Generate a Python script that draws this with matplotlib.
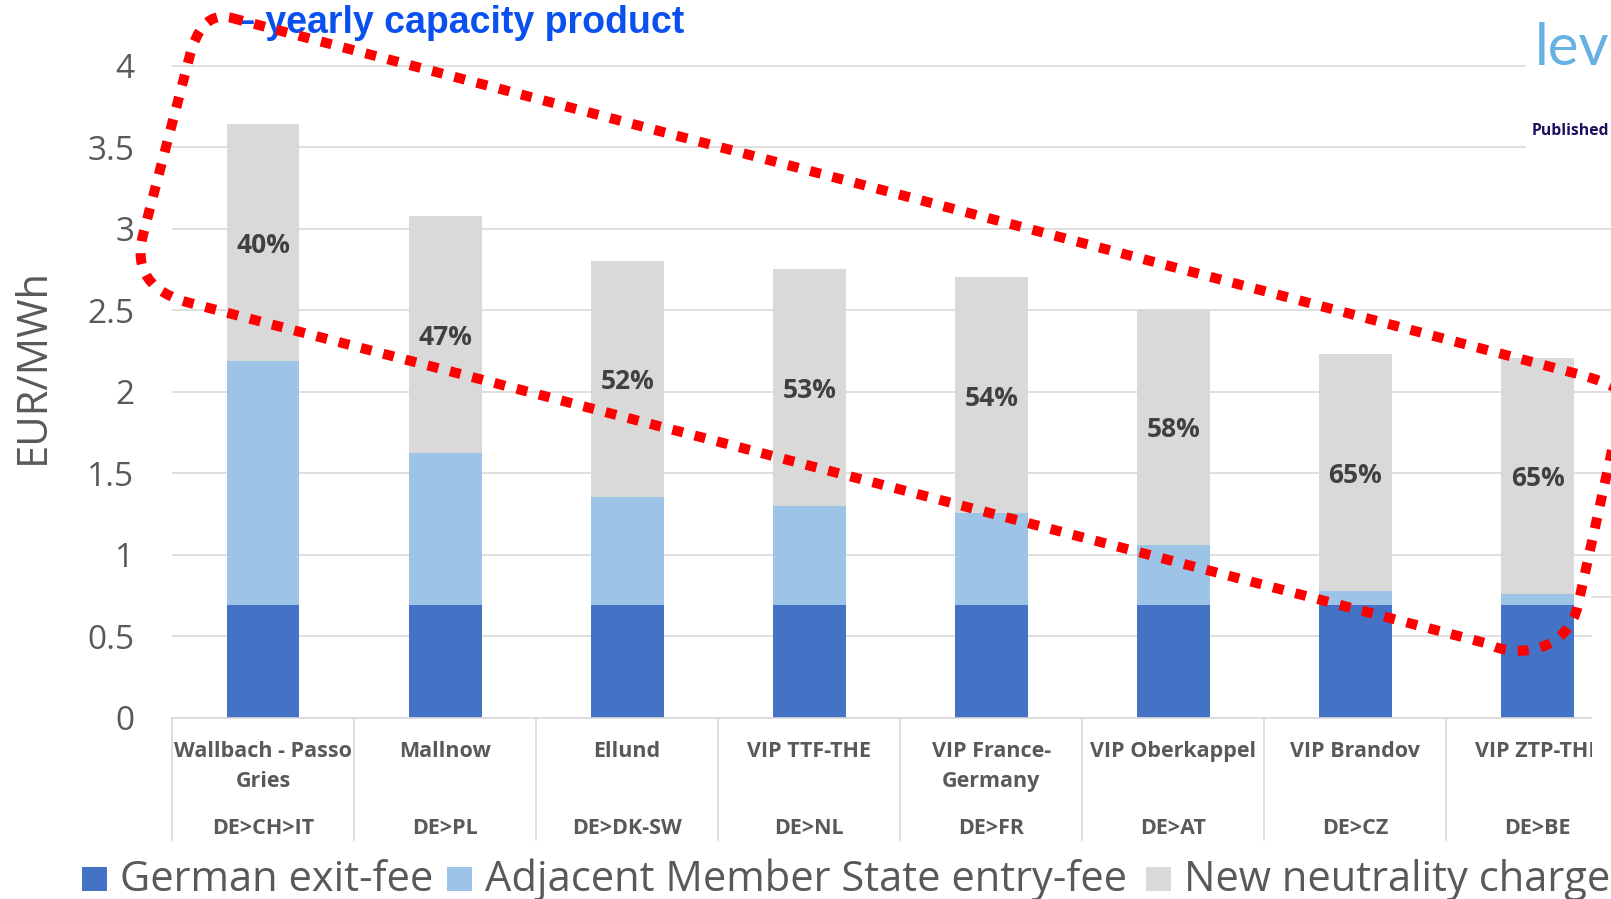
import numpy as np
import matplotlib
matplotlib.use("Agg")
import matplotlib.pyplot as plt
from matplotlib.path import Path
from matplotlib.patches import PathPatch, Rectangle
from matplotlib.transforms import blended_transform_factory

# data (EUR/MWh)
points = ["Wallbach - Passo\nGries", "Mallnow", "Ellund", "VIP TTF-THE",
          "VIP France-\nGermany", "VIP Oberkappel", "VIP Brandov", "VIP ZTP-THE"]
routes = ["DE>CH>IT", "DE>PL", "DE>DK-SW", "DE>NL", "DE>FR", "DE>AT", "DE>CZ", "DE>BE"]
german_exit = [0.69, 0.69, 0.69, 0.69, 0.69, 0.69, 0.69, 0.69]
adjacent_entry = [1.50, 0.935, 0.665, 0.61, 0.565, 0.37, 0.09, 0.07]
neutrality = [1.45, 1.45, 1.45, 1.45, 1.45, 1.45, 1.45, 1.45]
share_labels = ["40%", "47%", "52%", "53%", "54%", "58%", "65%", "65%"]

series_names = ["German exit-fee", "Adjacent Member State entry-fee", "New neutrality charge"]
colors = ["#4472C4", "#9DC3E6", "#D9D9D9"]
TXT = "#595959"
FONT = ["Open Sans", "DejaVu Sans"]

W, H = 1611, 899
plt.rcParams["font.family"] = FONT

fig = plt.figure(figsize=(W / 100, H / 100), dpi=100)
fig.patch.set_facecolor("white")


def fx(px):
    return px / W


def fy(py):
    return 1 - py / H


# plot area: left edge 172 px, category width ~182 px, y=0 at 718 px, 163.1 px per unit
ax = fig.add_axes([fx(172), fy(718), 8 * 182.07 / W, 4.4 * 163.1 / H])
x = np.arange(len(points))
bar_w = 0.4

ax.bar(x, german_exit, bar_w, color=colors[0], zorder=2)
bottom2 = np.array(german_exit)
ax.bar(x, adjacent_entry, bar_w, bottom=bottom2, color=colors[1], zorder=2)
bottom3 = bottom2 + np.array(adjacent_entry)
ax.bar(x, neutrality, bar_w, bottom=bottom3, color=colors[2], zorder=2)

for xi, b, n, lab in zip(x, bottom3, neutrality, share_labels):
    ax.text(xi, b + n / 2, lab, ha="center", va="center_baseline", fontsize=19,
            fontweight="bold", color="#404040", zorder=3)

ax.set_xlim(-0.5, len(points) - 0.5)
ax.set_ylim(0, 4.4)
ax.set_yticks(np.arange(0, 4.01, 0.5))
ax.set_yticklabels([f"{v:g}" for v in np.arange(0, 4.01, 0.5)], fontsize=24, color=TXT)
ax.tick_params(axis="y", length=0, pad=27)
ax.set_xticks([])
ax.grid(axis="y", color="#D9D9D9", linewidth=1.2, zorder=0)
ax.set_axisbelow(True)
for s in ["left", "right", "top"]:
    ax.spines[s].set_visible(False)
ax.spines["bottom"].set_color("#D9D9D9")
ax.spines["bottom"].set_linewidth(1.2)

# two-level category axis
tr = blended_transform_factory(ax.transData, fig.transFigure)
for xi, name, code in zip(x, points, routes):
    for k, line in enumerate(name.split("\n")):
        ax.text(xi, fy(757 + 30 * k), line, transform=tr, ha="center", va="baseline",
                fontsize=15.5, fontweight="bold", color=TXT, clip_on=False)
    ax.text(xi, fy(834), code, transform=tr, ha="center", va="baseline",
            fontsize=15.5, fontweight="bold", color=TXT, clip_on=False)
for b in np.arange(-0.5, len(points), 1.0):
    ax.plot([b, b], [fy(718), fy(840)], transform=tr, color="#D9D9D9",
            linewidth=1.2, clip_on=False)

fig.text(fx(33), fy(366), "EUR/MWh", rotation=90, ha="center", va="center",
         fontsize=30, color=TXT)

# legend along the bottom
legend_sq = [82, 447, 1146]
legend_tx = [120, 485, 1184]
for sx, tx, name, c in zip(legend_sq, legend_tx, series_names, colors):
    fig.patches.append(Rectangle((fx(sx), fy(891)), 25 / W, 24 / H, transform=fig.transFigure,
                                 facecolor=c, edgecolor="none", figure=fig))
    fig.text(fx(tx), fy(891), name, ha="left", va="baseline", fontsize=30, color=TXT)

# white boxes of the overlapping slide elements at the right edge
fig.patches.append(Rectangle((fx(1526), fy(190)), 90 / W, 190 / H, transform=fig.transFigure,
                             facecolor="white", edgecolor="none", figure=fig, zorder=2))
fig.patches.append(Rectangle((fx(1592), fy(846)), 30 / W, 249 / H, transform=fig.transFigure,
                             facecolor="white", edgecolor="none", figure=fig, zorder=2))
fig.lines.append(plt.Line2D([fx(1592), 1], [fy(597), fy(597)], transform=fig.transFigure,
                            color="#D9D9D9", linewidth=1.2, figure=fig, zorder=2.1))

fig.text(fx(1535), fy(65), "lev", ha="left", va="baseline", fontsize=42,
         family=["Lato", "DejaVu Sans"], color="#67B0E3", zorder=3)
fig.text(fx(1532), fy(135), "Published", ha="left", va="baseline", fontsize=11.3,
         fontweight="bold", color="#1E1060", zorder=3)

fig.text(fx(234), fy(33), "\u2013 yearly capacity product", ha="left", va="baseline",
         fontsize=27, fontweight="bold", color="#0A50F0",
         family=["Liberation Sans Narrow", "Liberation Sans", "DejaVu Sans"], zorder=3)

# red dotted loop drawn over the slide
verts_px = [
    (232, 18),
    (1570, 372),
    (1630, 387), (1650, 405), (1616, 432),
    (1578, 605),
    (1568, 650), (1520, 660), (1485, 643),
    (190, 303),
    (150, 292.5), (134, 270), (143, 235),
    (190, 55),
    (196.5, 31), (208, 11.5), (232, 18),
    (232, 18),
]
codes = [Path.MOVETO, Path.LINETO,
         Path.CURVE4, Path.CURVE4, Path.CURVE4,
         Path.LINETO,
         Path.CURVE4, Path.CURVE4, Path.CURVE4,
         Path.LINETO,
         Path.CURVE4, Path.CURVE4, Path.CURVE4,
         Path.LINETO,
         Path.CURVE4, Path.CURVE4, Path.CURVE4,
         Path.CLOSEPOLY]
loop = Path([(fx(a), fy(b)) for a, b in verts_px], codes)
fig.patches.append(PathPatch(loop, transform=fig.transFigure, fill=False, edgecolor="#FF0000",
                             linewidth=7.2, linestyle=(0, (1.1, 1.2)), capstyle="butt",
                             figure=fig, zorder=5))

fig.savefig("out.png", dpi=100)
